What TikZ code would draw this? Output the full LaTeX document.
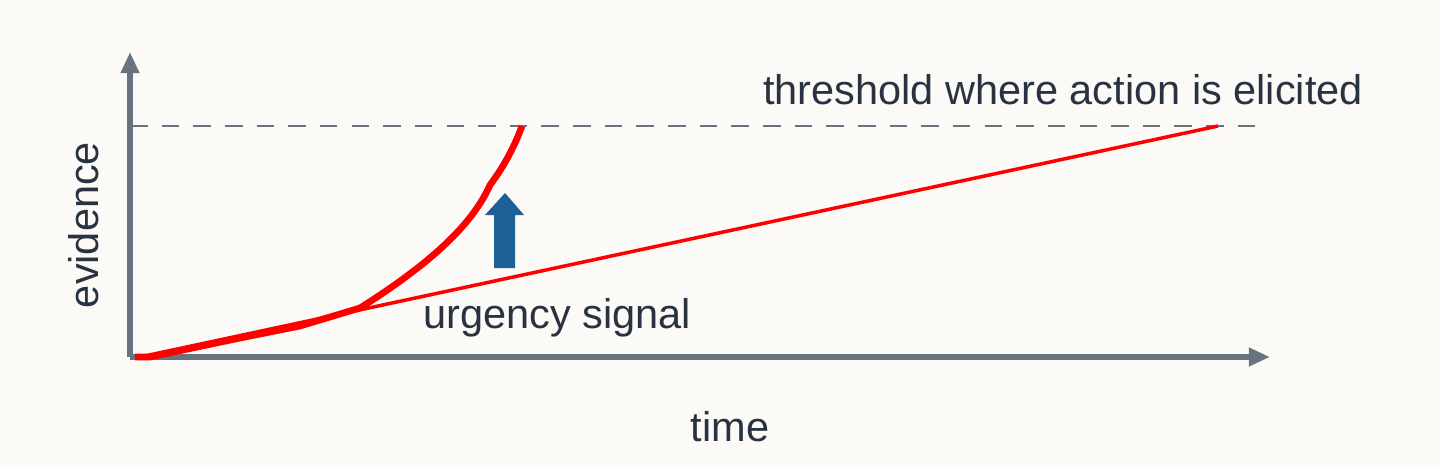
\documentclass[tikz,border=0pt]{standalone}
\usepackage{fontspec}
\setmainfont{Liberation Sans}
\usetikzlibrary{arrows.meta}
\definecolor{bgcol}{RGB}{252,250,247}
\definecolor{axiscol}{RGB}{105,115,128}
\definecolor{txtcol}{RGB}{40,50,65}
\definecolor{upcol}{RGB}{30,95,150}
\tikzset{
  axisline/.style={axiscol, line width=1.6pt, -{Triangle[length=6pt,width=5pt]}},
  lbl/.style={text=txtcol, font=\fontsize{11.8}{14}\selectfont, inner sep=0pt},
}
\begin{document}
\begin{tikzpicture}[x=0.01cm, y=-0.01cm]
    \fill[bgcol] (0,0) rectangle (1440,467);
    \useasboundingbox (0,0) rectangle (1440,467);

    \coordinate (o) at (130,357);
    \coordinate (ytop) at (130,52);
    \coordinate (xend) at (1270,357);

    \draw[axiscol, line width=0.8pt, dash pattern=on 5pt off 4pt] (130,126) -- (1268,126);

    \draw[axisline] (o) -- (ytop);
    \draw[axisline] (o) -- (xend);

    % urgency signal line
    \coordinate (us0) at (140,357);
    \coordinate (us1) at (1218,126);
    \draw[red, line width=1pt] (us0) -- (us1);

    % accumulated evidence
    \draw[red, line width=1.9pt, line join=round] (135,357) -- (150,357) -- (240,338) -- (300,326) -- (360,308)
        .. controls (420,270) and (470,230) .. (490,185) .. controls (505,165) and (515,145) .. (522,126);

    % arrow
    \fill[upcol] (494,268) -- (494,215) -- (485,215) -- (505,193) -- (524,215) -- (515,215) -- (515,268) -- cycle;

    \node[lbl, rotate=90] (ev) at (84,225) {evidence};
    \node[lbl] (tm) at (730,427) {time};
    \node[lbl] (ur) at (557,318) {urgency signal};
    \node[lbl] (th) at (1063,90) {threshold where action is elicited};
\end{tikzpicture}
\end{document}
